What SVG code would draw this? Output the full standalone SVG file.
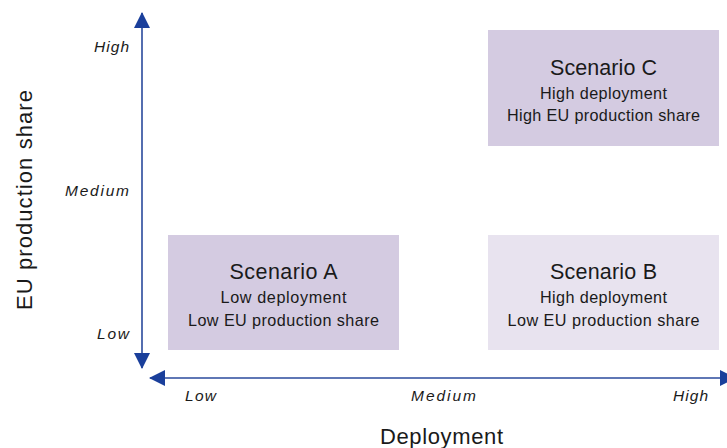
<svg xmlns="http://www.w3.org/2000/svg" width="727" height="448" viewBox="0 0 727 448">
<style>
text{font-family:"Liberation Sans",Arial,sans-serif;fill:#1a1a1a}
.title{font-size:21.5px;text-anchor:middle}
.sub{font-size:16.2px;text-anchor:middle}
.tick{font-size:15.5px;font-style:italic}
.axis{font-size:22px;text-anchor:middle}
.ax{stroke:#2a4a9c;stroke-width:1.6;fill:none}
.dark{fill:#d4cbe1}
.light{fill:#e8e3ef}
</style>
<defs>
<marker id="ah" viewBox="0 0 16 16" refX="15" refY="8" markerWidth="16" markerHeight="16" markerUnits="userSpaceOnUse" orient="auto">
<path d="M0,0 L16,8 L0,16 Z" fill="#1a3f9b"/>
</marker>
</defs>
<rect width="727" height="448" fill="#ffffff"/>
<g id="connectors">
<line class="ax" x1="142" y1="190" x2="142" y2="13" marker-end="url(#ah)"/>
<line class="ax" x1="142" y1="190" x2="142" y2="368" marker-end="url(#ah)"/>
<line class="ax" x1="440" y1="378" x2="150" y2="378" marker-end="url(#ah)"/>
<line class="ax" x1="440" y1="378" x2="735" y2="378" marker-end="url(#ah)"/>
</g>
<g id="scenarioA">
<rect class="dark" x="168" y="235" width="231" height="115"/>
<text class="title" x="283.5" y="279" textLength="108" lengthAdjust="spacing">Scenario A</text>
<text class="sub" x="283.5" y="303" textLength="126" lengthAdjust="spacing">Low deployment</text>
<text class="sub" x="283.5" y="326" textLength="191" lengthAdjust="spacing">Low EU production share</text>
</g>
<g id="scenarioB">
<rect class="light" x="488" y="235" width="231" height="115"/>
<text class="title" x="603.5" y="279" textLength="107" lengthAdjust="spacing">Scenario B</text>
<text class="sub" x="603.5" y="303" textLength="127" lengthAdjust="spacing">High deployment</text>
<text class="sub" x="603.5" y="326" textLength="192" lengthAdjust="spacing">Low EU production share</text>
</g>
<g id="scenarioC">
<rect class="dark" x="488" y="30" width="231" height="116"/>
<text class="title" x="603.5" y="75" textLength="107" lengthAdjust="spacing">Scenario C</text>
<text class="sub" x="603.5" y="99" textLength="127" lengthAdjust="spacing">High deployment</text>
<text class="sub" x="603.5" y="121" textLength="193" lengthAdjust="spacing">High EU production share</text>
</g>
<g id="yticks">
<text class="tick" x="129" y="52" text-anchor="end" textLength="35" lengthAdjust="spacing">High</text>
<text class="tick" x="129" y="196" text-anchor="end" textLength="64" lengthAdjust="spacing">Medium</text>
<text class="tick" x="129" y="339" text-anchor="end" textLength="32" lengthAdjust="spacing">Low</text>
</g>
<g id="xticks">
<text class="tick" x="185" y="401" textLength="31" lengthAdjust="spacing">Low</text>
<text class="tick" x="443.5" y="401" text-anchor="middle" textLength="65" lengthAdjust="spacing">Medium</text>
<text class="tick" x="708" y="401" text-anchor="end" textLength="35" lengthAdjust="spacing">High</text>
</g>
<g id="axislabels">
<text class="axis" x="441.5" y="444" textLength="123" lengthAdjust="spacing">Deployment</text>
<text class="axis" transform="translate(32,200) rotate(-90)" textLength="220" lengthAdjust="spacing">EU production share</text>
</g>
</svg>
